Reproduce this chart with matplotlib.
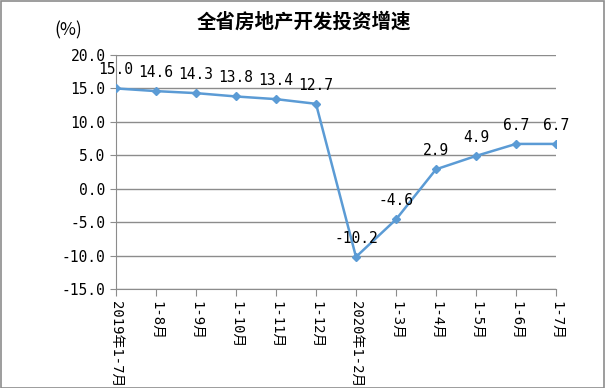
import matplotlib
matplotlib.use("Agg")
import matplotlib.pyplot as plt
from matplotlib.patches import Rectangle

plt.rcParams['font.family'] = ['Noto Sans CJK SC', 'DejaVu Sans']
MONO = ['DejaVu Sans Mono', 'Noto Sans CJK SC']

categories = ["2019年1-7月", "1-8月", "1-9月", "1-10月", "1-11月", "1-12月",
              "2020年1-2月", "1-3月", "1-4月", "1-5月", "1-6月", "1-7月"]
values = [15.0, 14.6, 14.3, 13.8, 13.4, 12.7, -10.2, -4.6, 2.9, 4.9, 6.7, 6.7]
yticks = [-15, -10, -5, 0, 5, 10, 15, 20]

fig = plt.figure(figsize=(6.05, 3.88), dpi=100)
fig.patches.append(Rectangle((0.001, 0.001), 0.997, 0.996, transform=fig.transFigure,
                             fill=False, edgecolor='#8c8c8c', linewidth=1.2))
ax = fig.add_axes([0.1917, 0.2552, 0.7273, 0.603])

x = list(range(len(categories)))
ax.plot(x, values, color='#5B9BD5', linewidth=1.8, marker='D', markersize=4,
        markerfacecolor='#5B9BD5', markeredgecolor='#5B9BD5', zorder=3)
for xi, v in zip(x, values):
    ax.annotate(f"{v:.1f}", (xi, v), xytext=(0, 8), textcoords='offset points',
                ha='center', va='bottom', fontsize=10.5, color='black', family=MONO)

ax.set_xlim(0, len(categories) - 1)
ax.set_ylim(-15, 20)
ax.set_yticks(yticks)
ax.set_yticklabels([f"{t:.1f}" for t in yticks], fontsize=10.5, family=MONO)
ax.set_xticks(x)
ax.set_xticklabels(categories, rotation=-90, fontsize=10, va='top', ha='center', family=MONO)
ax.yaxis.grid(True, color='#8c8c8c', linewidth=1)
ax.set_axisbelow(True)
for s in ['top', 'right']:
    ax.spines[s].set_visible(False)
for s in ['left', 'bottom']:
    ax.spines[s].set_color('#8c8c8c')
ax.tick_params(axis='both', colors='#8c8c8c', labelcolor='black', length=5, direction='out')
ax.tick_params(axis='y', length=4)

fig.text(0.503, 0.943, "全省房地产开发投资增速", ha='center', va='center',
         fontsize=14, fontweight='bold')
fig.text(0.113, 0.922, "(%)", ha='center', va='center', fontsize=12.5)

fig.savefig("out.png", dpi=100)
